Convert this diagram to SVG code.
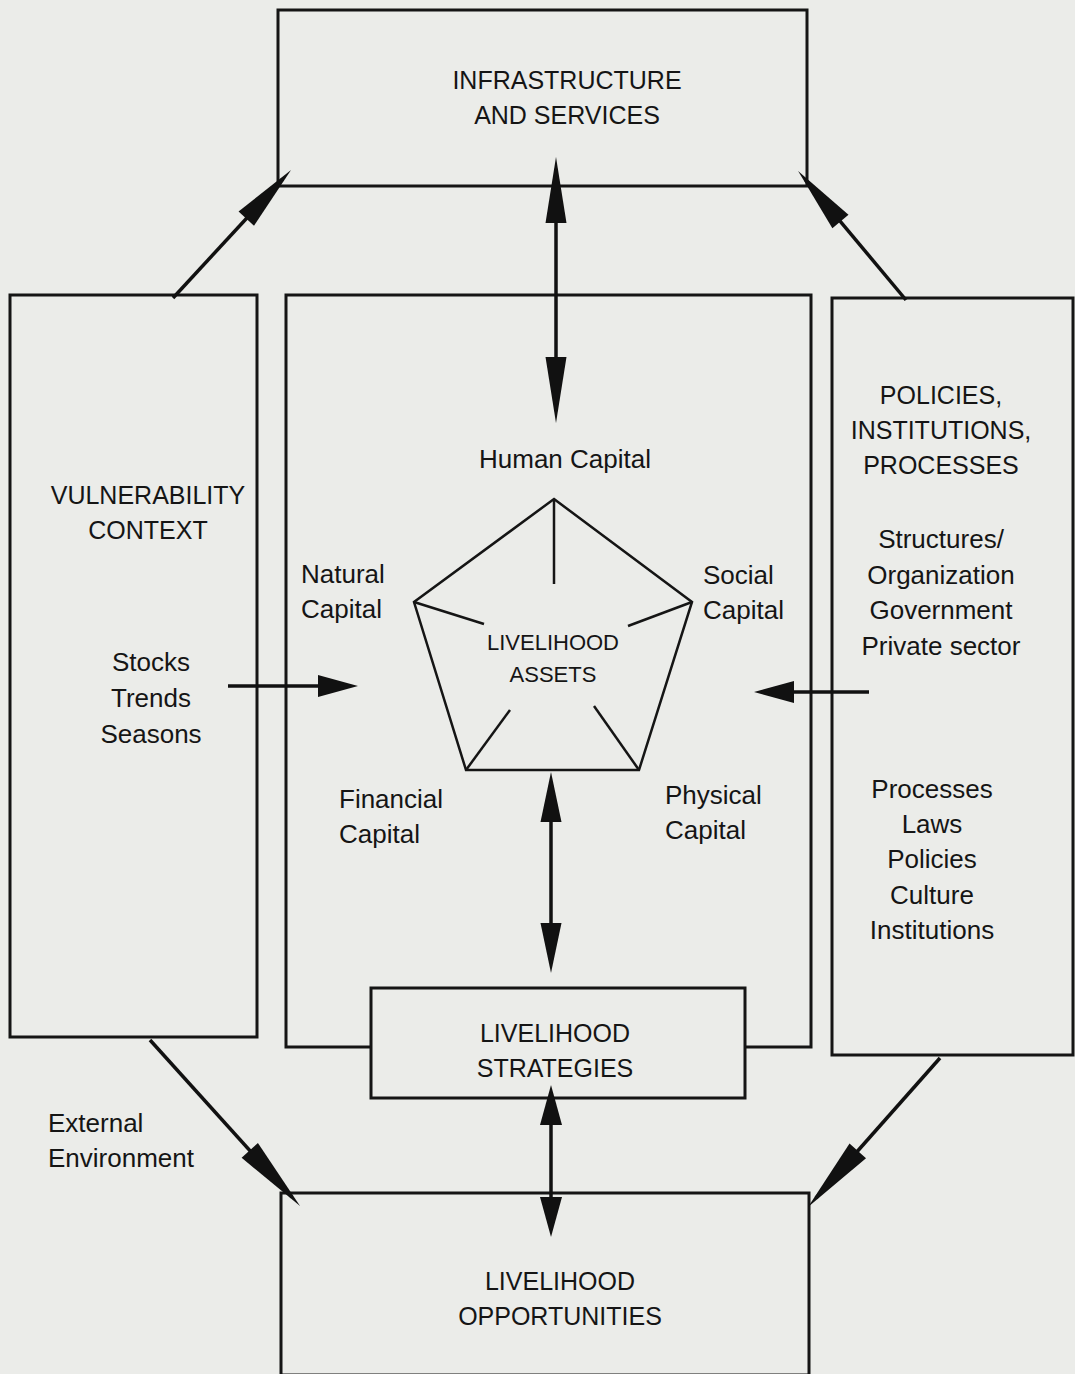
<svg xmlns="http://www.w3.org/2000/svg" width="1075" height="1374" viewBox="0 0 1075 1374">
<style>
.bg{fill:#ebece9}
.box{fill:#ebece9;stroke:#151515;stroke-width:3}
.ln{fill:none;stroke:#151515;stroke-width:2.5;stroke-linejoin:miter}
.arr{fill:none;stroke:#111;stroke-width:3.5}
text{font-family:"Liberation Sans",Arial,sans-serif;fill:#151515}
.t{font-size:26px}
.c{font-size:25px}
.s{font-size:22px}
.m{text-anchor:middle}
</style>
<defs>
<marker id="hXL" markerUnits="userSpaceOnUse" orient="auto-start-reverse" refX="-12" refY="0" markerWidth="100" markerHeight="30" overflow="visible"><path d="M0,0 L-75,-11 L-75,11 Z" fill="#111"/></marker>
<marker id="hL" markerUnits="userSpaceOnUse" orient="auto-start-reverse" refX="-12" refY="0" markerWidth="100" markerHeight="30" overflow="visible"><path d="M0,0 L-66,-10.5 L-66,10.5 Z" fill="#111"/></marker>
<marker id="hM" markerUnits="userSpaceOnUse" orient="auto-start-reverse" refX="-12" refY="0" markerWidth="100" markerHeight="30" overflow="visible"><path d="M0,0 L-50,-10.5 L-50,10.5 Z" fill="#111"/></marker>
<marker id="hS" markerUnits="userSpaceOnUse" orient="auto-start-reverse" refX="-12" refY="0" markerWidth="100" markerHeight="30" overflow="visible"><path d="M0,0 L-40,-11 L-40,11 Z" fill="#111"/></marker>
</defs>
<rect class="bg" x="0" y="0" width="1075" height="1374"/>

<g id="infrastructure">
<rect class="box" x="278" y="10" width="529" height="176"/>
<text class="c m" x="567" y="89">INFRASTRUCTURE</text>
<text class="c m" x="567" y="124">AND SERVICES</text>
</g>

<g id="vulnerability">
<rect class="box" x="10" y="295" width="247" height="742"/>
<text class="c m" x="148" y="504">VULNERABILITY</text>
<text class="c m" x="148" y="539">CONTEXT</text>
<text class="t m" x="151" y="671">Stocks</text>
<text class="t m" x="151" y="707">Trends</text>
<text class="t m" x="151" y="743">Seasons</text>
</g>

<g id="assets-frame">
<rect class="box" x="286" y="295" width="525" height="752"/>
<text class="t m" x="565" y="468">Human Capital</text>
<text class="t" x="301" y="583">Natural</text>
<text class="t" x="301" y="618">Capital</text>
<text class="t" x="703" y="584">Social</text>
<text class="t" x="703" y="619">Capital</text>
<text class="t" x="339" y="808">Financial</text>
<text class="t" x="339" y="843">Capital</text>
<text class="t" x="665" y="804">Physical</text>
<text class="t" x="665" y="839">Capital</text>
</g>

<g id="livelihood-assets">
<polygon class="ln" points="554,499 692,602 639,770 466,770 414,602"/>
<line class="ln" x1="554" y1="499" x2="554" y2="584"/>
<line class="ln" x1="414" y1="602" x2="484" y2="624"/>
<line class="ln" x1="692" y1="602" x2="628" y2="626"/>
<line class="ln" x1="466" y1="770" x2="510" y2="710"/>
<line class="ln" x1="639" y1="770" x2="594" y2="706"/>
<text class="s m" x="553" y="650">LIVELIHOOD</text>
<text class="s m" x="553" y="682">ASSETS</text>
</g>

<g id="policies">
<rect class="box" x="832" y="298" width="241" height="757"/>
<text class="c m" x="941" y="404">POLICIES,</text>
<text class="c m" x="941" y="439">INSTITUTIONS,</text>
<text class="c m" x="941" y="474">PROCESSES</text>
<text class="t m" x="941" y="548">Structures/</text>
<text class="t m" x="941" y="584">Organization</text>
<text class="t m" x="941" y="619">Government</text>
<text class="t m" x="941" y="655">Private sector</text>
<text class="t m" x="932" y="798">Processes</text>
<text class="t m" x="932" y="833">Laws</text>
<text class="t m" x="932" y="868">Policies</text>
<text class="t m" x="932" y="904">Culture</text>
<text class="t m" x="932" y="939">Institutions</text>
</g>

<g id="strategies">
<rect class="box" x="371" y="988" width="374" height="110"/>
<text class="c m" x="555" y="1042">LIVELIHOOD</text>
<text class="c m" x="555" y="1077">STRATEGIES</text>
</g>

<g id="opportunities">
<rect class="box" x="281" y="1193" width="528" height="182"/>
<text class="c m" x="560" y="1290">LIVELIHOOD</text>
<text class="c m" x="560" y="1325">OPPORTUNITIES</text>
</g>

<g id="external-label">
<text class="t" x="48" y="1132">External</text>
<text class="t" x="48" y="1167">Environment</text>
</g>

<g id="connectors">
<line class="arr" x1="173" y1="298" x2="282.9" y2="178.9" marker-end="url(#hL)"/>
<line class="arr" x1="906" y1="300" x2="805.8" y2="180.1" marker-end="url(#hL)"/>
<line class="arr" x1="556" y1="169" x2="556" y2="411" marker-start="url(#hL)" marker-end="url(#hL)"/>
<line class="arr" x1="228" y1="686" x2="346" y2="686" marker-end="url(#hS)"/>
<line class="arr" x1="869" y1="692" x2="766" y2="692" marker-end="url(#hS)"/>
<line class="arr" x1="551" y1="784" x2="551" y2="961" marker-start="url(#hM)" marker-end="url(#hM)"/>
<line class="arr" x1="551" y1="1097" x2="551" y2="1225" marker-start="url(#hS)" marker-end="url(#hS)"/>
<line class="arr" x1="150" y1="1040" x2="292" y2="1197.1" marker-end="url(#hXL)"/>
<line class="arr" x1="940" y1="1058" x2="816" y2="1198" marker-end="url(#hXL)"/>
</g>
</svg>
